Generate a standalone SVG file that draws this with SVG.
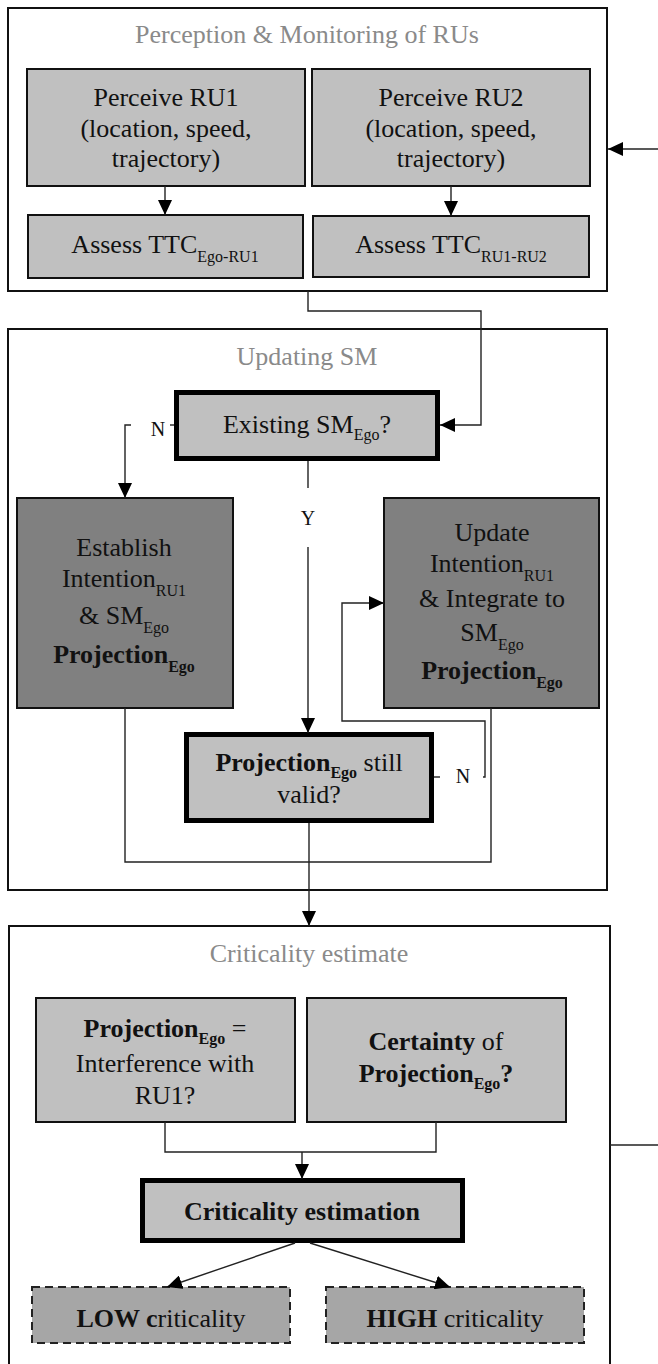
<svg xmlns="http://www.w3.org/2000/svg" width="658" height="1364" viewBox="0 0 658 1364">
<style>
text{font-family:"Liberation Serif","Times New Roman",serif;font-size:26px;fill:#111;text-anchor:middle}
.title{fill:#8a8a8a}
.sub{font-size:16px}
.b{font-weight:bold}
.lbl{font-size:20px}
.cont{fill:#fff;stroke:#111;stroke-width:2}
.lt{fill:#c0c0c0;stroke:#111;stroke-width:2}
.dk{fill:#808080;stroke:#111;stroke-width:2}
.thick{fill:#c0c0c0;stroke:#000;stroke-width:5}
.dash{fill:#a6a6a6;stroke:#222;stroke-width:2;stroke-dasharray:8 5}
.c{fill:none;stroke:#222;stroke-width:1.4}
</style>
<defs>
<marker id="arr" markerWidth="15" markerHeight="14" refX="15" refY="7" orient="auto" markerUnits="userSpaceOnUse"><path d="M0,0 L15,7 L0,14 z" fill="#000"/></marker>
</defs>

<g id="perception">
<rect class="cont" x="8" y="8" width="599" height="283"/>
<text class="title" x="307" y="43">Perception &amp; Monitoring of RUs</text>
</g>
<g id="perceive-ru1">
<rect class="lt" x="27" y="69" width="278" height="117"/>
<text x="166" y="106">Perceive RU1</text>
<text x="166" y="137">(location, speed,</text>
<text x="166" y="167">trajectory)</text>
</g>
<g id="perceive-ru2">
<rect class="lt" x="312" y="69" width="278" height="117"/>
<text x="451" y="106">Perceive RU2</text>
<text x="451" y="137">(location, speed,</text>
<text x="451" y="167">trajectory)</text>
</g>
<g id="assess-ego-ru1">
<rect class="lt" x="28" y="215" width="275" height="63"/>
<text x="165" y="253">Assess TTC<tspan class="sub" dy="9">Ego-RU1</tspan></text>
</g>
<g id="assess-ru1-ru2">
<rect class="lt" x="313" y="216" width="276" height="61"/>
<text x="451" y="253">Assess TTC<tspan class="sub" dy="9">RU1-RU2</tspan></text>
</g>

<g id="updating">
<rect class="cont" x="8" y="329" width="599" height="561"/>
<text class="title" x="307" y="365">Updating SM</text>
</g>
<g id="existing-sm">
<rect class="thick" x="176.5" y="392.5" width="261" height="66"/>
<text x="307" y="433">Existing SM<tspan class="sub" dy="7">Ego</tspan><tspan dy="-7">?</tspan></text>
</g>
<g id="establish">
<rect class="dk" x="17" y="498" width="216" height="210"/>
<text x="124" y="556">Establish</text>
<text x="124" y="587">Intention<tspan class="sub" dy="9">RU1</tspan></text>
<text x="124" y="624">&amp; SM<tspan class="sub" dy="9">Ego</tspan></text>
<text x="124" y="663"><tspan class="b">Projection</tspan><tspan class="sub b" dy="9">Ego</tspan></text>
</g>
<g id="update">
<rect class="dk" x="384" y="498" width="215" height="210"/>
<text x="492" y="541">Update</text>
<text x="492" y="572">Intention<tspan class="sub" dy="9">RU1</tspan></text>
<text x="492" y="607">&amp; Integrate to</text>
<text x="492" y="641">SM<tspan class="sub" dy="9">Ego</tspan></text>
<text x="492" y="679"><tspan class="b">Projection</tspan><tspan class="sub b" dy="9">Ego</tspan></text>
</g>
<g id="still-valid">
<rect class="thick" x="186.5" y="734.5" width="245" height="86"/>
<text x="309" y="771"><tspan class="b">Projection</tspan><tspan class="sub b" dy="7">Ego</tspan><tspan dy="-7"> still</tspan></text>
<text x="309" y="803">valid?</text>
</g>

<g id="criticality">
<rect class="cont" x="9" y="926" width="601" height="450"/>
<text class="title" x="309" y="962">Criticality estimate</text>
</g>
<g id="interference">
<rect class="lt" x="36" y="998" width="259" height="124"/>
<text x="165" y="1037"><tspan class="b">Projection</tspan><tspan class="sub b" dy="7">Ego</tspan><tspan dy="-7"> =</tspan></text>
<text x="165" y="1072">Interference with</text>
<text x="165" y="1104">RU1?</text>
</g>
<g id="certainty">
<rect class="lt" x="307" y="998" width="259" height="124"/>
<text x="436" y="1050"><tspan class="b">Certainty</tspan> of</text>
<text x="436" y="1082"><tspan class="b">Projection</tspan><tspan class="sub b" dy="7">Ego</tspan><tspan class="b" dy="-7">?</tspan></text>
</g>
<g id="criticality-estimation">
<rect class="thick" x="142.5" y="1180.5" width="320" height="60"/>
<text class="b" x="302" y="1220">Criticality estimation</text>
</g>
<g id="low">
<rect class="dash" x="32" y="1287" width="258" height="56"/>
<text x="161" y="1327"><tspan class="b">LOW c</tspan>riticality</text>
</g>
<g id="high">
<rect class="dash" x="326" y="1287" width="258" height="56"/>
<text x="455" y="1327"><tspan class="b">HIGH</tspan> criticality</text>
</g>

<g id="connectors">
<path class="c" d="M658,149 H608" marker-end="url(#arr)"/>
<path class="c" d="M165,186 V215" marker-end="url(#arr)"/>
<path class="c" d="M451,186 V216" marker-end="url(#arr)"/>
<path class="c" d="M308,291 V311 H481 V425 H440" marker-end="url(#arr)"/>
<path class="c" d="M174,425 H170"/>
<path class="c" d="M131,425 H125 V498" marker-end="url(#arr)"/>
<text class="lbl" x="158" y="436">N</text>
<path class="c" d="M308,461 V488"/>
<path class="c" d="M308,547 V733" marker-end="url(#arr)"/>
<text class="lbl" x="308" y="525">Y</text>
<path class="c" d="M434,777 H440"/>
<path class="c" d="M483,777 H485 V721 H342 V603 H384" marker-end="url(#arr)"/>
<text class="lbl" x="463" y="783">N</text>
<path class="c" d="M125,708 V862 H491 V708"/>
<path class="c" d="M309,823 V926" marker-end="url(#arr)"/>
<path class="c" d="M165,1122 V1152 H436 V1122"/>
<path class="c" d="M302,1152 V1179" marker-end="url(#arr)"/>
<path class="c" d="M295,1243 L167,1287" marker-end="url(#arr)"/>
<path class="c" d="M310,1243 L450,1287" marker-end="url(#arr)"/>
<path class="c" d="M610,1145 H658"/>
</g>
</svg>
